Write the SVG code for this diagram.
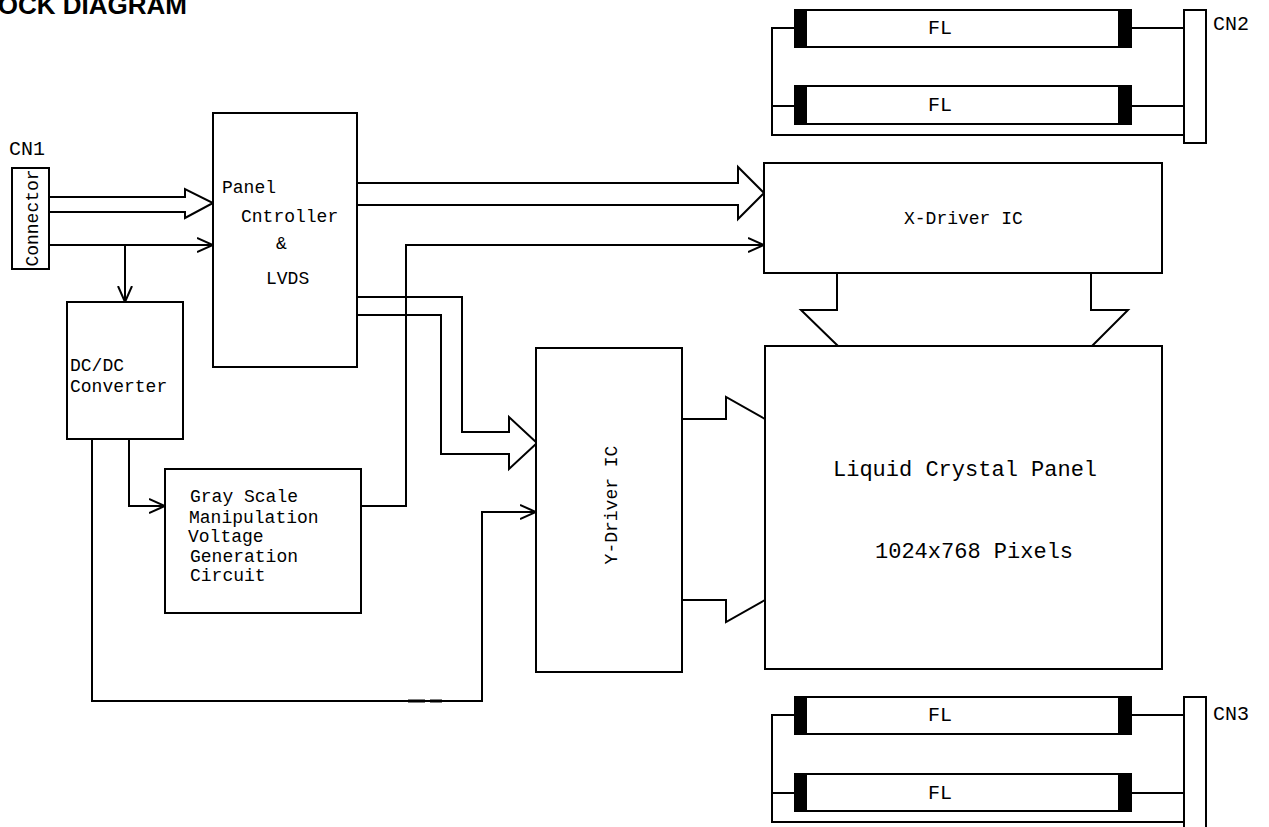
<svg xmlns="http://www.w3.org/2000/svg" width="1269" height="827" viewBox="0 0 1269 827">
<defs>
<style>
.box{fill:#fff;stroke:#000;stroke-width:2}
.ln{fill:none;stroke:#000;stroke-width:2}
.cap{fill:#000;stroke:none}
.t{font-family:"Liberation Mono","Courier New",monospace;font-size:18px;fill:#000}
.big{font-size:22px}
.lbl{font-size:20px}
.fl{font-size:20px}
.title{font-family:"Liberation Sans",Arial,sans-serif;font-weight:bold;font-size:26px;fill:#000}
</style>
<marker id="open" viewBox="0 0 16 16" refX="16" refY="8" markerWidth="16" markerHeight="16" markerUnits="userSpaceOnUse" orient="auto">
<path d="M0,1 L16,8 L0,15" fill="none" stroke="#000" stroke-width="2"/>
</marker>
</defs>
<rect width="1269" height="827" fill="#fff"/>
<text class="title" x="187" y="14" text-anchor="end">BLOCK DIAGRAM</text>

<g id="connectors">
<path class="ln" d="M49,197 H185 V189 L213,203 L185,218 V212 H49"/>
<path class="ln" d="M49,245 H213" marker-end="url(#open)"/>
<path class="ln" d="M125,245 V302" marker-end="url(#open)"/>
<path class="ln" d="M357,183 H738 V167 L764,193 L738,219 V205 H357"/>
<path class="ln" d="M357,297 H462 V432 H509 V417 L537,443 L509,469 V454 H441 V315 H357"/>
<path class="ln" d="M361,506 H406 V245 H764" marker-end="url(#open)"/>
<path class="ln" d="M129,439 V506 H165" marker-end="url(#open)"/>
<path class="ln" d="M92,439 V701 H482 V512 H536" marker-end="url(#open)"/>
<path d="M408,701 H425 M430,701 H442" stroke="#000" stroke-width="3"/>
<path class="ln" d="M682,419 H726 V397 L765,419"/>
<path class="ln" d="M682,600 H726 V622 L765,600"/>
<path class="ln" d="M837,273 V310 H801 L838,346"/>
<path class="ln" d="M1091,273 V310 H1128 L1092,346"/>
<path class="ln" d="M795,28 H772 V135 H1184 M772,106 H795 M1131,28 H1184 M1131,106 H1184"/>
<path class="ln" d="M795,715 H772 V822 H1184 M772,793 H795 M1131,715 H1184 M1131,793 H1184"/>
</g>

<g id="cn1">
<text class="t lbl" x="9" y="155">CN1</text>
<rect class="box" x="12" y="168" width="37" height="101"/>
<text class="t" transform="translate(38,218) rotate(-90)" text-anchor="middle">Connector</text>
</g>

<g id="panel-controller">
<rect class="box" x="213" y="113" width="144" height="254"/>
<text class="t" x="222" y="193">Panel</text>
<text class="t" x="241" y="222">Cntroller</text>
<text class="t" x="276" y="249">&amp;</text>
<text class="t" x="266" y="284">LVDS</text>
</g>

<g id="dcdc">
<rect class="box" x="67" y="302" width="116" height="137"/>
<text class="t" x="70" y="371">DC/DC</text>
<text class="t" x="70" y="392">Converter</text>
</g>

<g id="grayscale">
<rect class="box" x="165" y="469" width="196" height="144"/>
<text class="t" x="190" y="502">Gray Scale</text>
<text class="t" x="189" y="523">Manipulation</text>
<text class="t" x="188" y="542">Voltage</text>
<text class="t" x="190" y="562">Generation</text>
<text class="t" x="190" y="581">Circuit</text>
</g>

<g id="ydriver">
<rect class="box" x="536" y="348" width="146" height="324"/>
<text class="t" transform="translate(617,505) rotate(-90)" text-anchor="middle" fill="#222">Y-Driver IC</text>
</g>

<g id="xdriver">
<rect class="box" x="764" y="163" width="398" height="110"/>
<text class="t" x="904" y="224">X-Driver IC</text>
</g>

<g id="lcpanel">
<rect class="box" x="765" y="346" width="397" height="323"/>
<text class="t big" x="833" y="476">Liquid Crystal Panel</text>
<text class="t big" x="875" y="558">1024x768 Pixels</text>
</g>

<g id="fl-top-1">
<rect class="box" x="795" y="10" width="336" height="37"/>
<rect class="cap" x="794" y="9" width="13" height="39"/>
<rect class="cap" x="1118" y="9" width="14" height="39"/>
<text class="t fl" x="940" y="34" text-anchor="middle">FL</text>
</g>
<g id="fl-top-2">
<rect class="box" x="795" y="86" width="336" height="38"/>
<rect class="cap" x="794" y="85" width="13" height="40"/>
<rect class="cap" x="1118" y="85" width="14" height="40"/>
<text class="t fl" x="940" y="111" text-anchor="middle">FL</text>
</g>
<g id="cn2">
<rect class="box" x="1184" y="10" width="22" height="133"/>
<text class="t lbl" x="1213" y="30">CN2</text>
</g>

<g id="fl-bot-1">
<rect class="box" x="795" y="697" width="336" height="37"/>
<rect class="cap" x="794" y="696" width="13" height="39"/>
<rect class="cap" x="1118" y="696" width="14" height="39"/>
<text class="t fl" x="940" y="721" text-anchor="middle">FL</text>
</g>
<g id="fl-bot-2">
<rect class="box" x="795" y="774" width="336" height="37"/>
<rect class="cap" x="794" y="773" width="13" height="39"/>
<rect class="cap" x="1118" y="773" width="14" height="39"/>
<text class="t fl" x="940" y="799" text-anchor="middle">FL</text>
</g>
<g id="cn3">
<rect class="box" x="1184" y="697" width="22" height="140"/>
<text class="t lbl" x="1213" y="720">CN3</text>
</g>
</svg>
